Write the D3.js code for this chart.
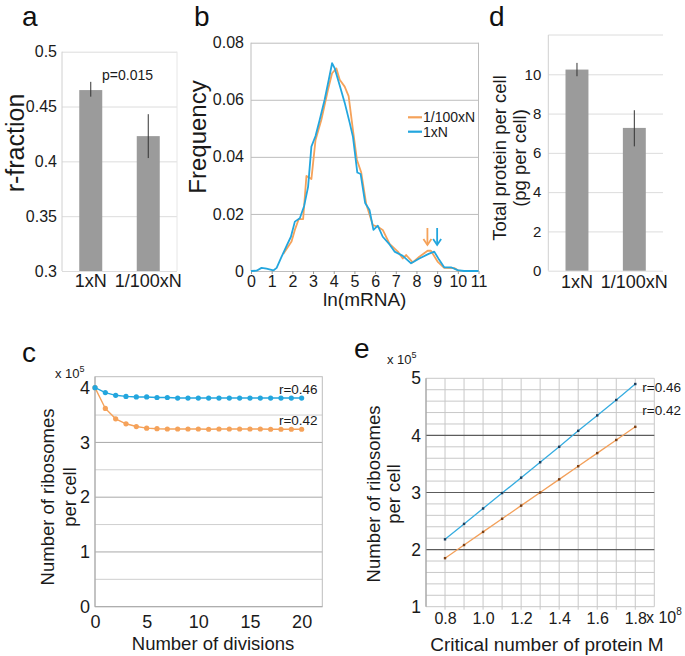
<!DOCTYPE html>
<html><head><meta charset="utf-8">
<script src="https://cdn.jsdelivr.net/npm/d3@7"></script>
<style>
body{margin:0;background:#fff;}
svg{display:block;font-family:"Liberation Sans",Arial,Helvetica,sans-serif;}
</style></head><body>
<svg id="fig" width="685" height="656"></svg>
<script>
// ---------------- data ----------------
const barCategories = ["1xN", "1/100xN"];
// panel a
const rFraction = [0.465, 0.423];
const rFractionLow = [0.459, 0.403];
const rFractionHigh = [0.4725, 0.443];
const rTicks = [0.3, 0.35, 0.4, 0.45, 0.5];
const pValueLabel = "p=0.015";
// panel b
const lnTicks = [0, 1, 2, 3, 4, 5, 6, 7, 8, 9, 10, 11];
const freqTicks = [0, 0.02, 0.04, 0.06, 0.08];
const freqBlue = [[0,0],[0.27,0.0001],[0.51,0.0011],[0.75,0.0008],[1.08,0.0002],[1.24,0.0011],[1.48,0.005],[1.72,0.0088],[1.93,0.012],[2.12,0.0173],[2.36,0.0185],[2.57,0.0228],[2.76,0.0295],[2.92,0.0436],[3.12,0.0473],[3.32,0.0529],[3.56,0.06],[3.76,0.067],[3.92,0.0728],[4.05,0.071],[4.29,0.065],[4.53,0.059],[4.77,0.052],[4.93,0.047],[5.14,0.0345],[5.3,0.034],[5.52,0.0238],[5.73,0.0214],[5.92,0.0144],[6.13,0.0159],[6.37,0.012],[6.7,0.0093],[6.94,0.0068],[7.34,0.0053],[7.74,0.0027],[8.14,0.0044],[8.59,0.006],[8.86,0.0068],[9.1,0.0039],[9.34,0.0013],[9.67,0.0013],[9.99,0.0003],[10.3,0],[11,0]];
const freqOrange = [[1.56,0.006],[1.96,0.0103],[2.12,0.0144],[2.31,0.0182],[2.52,0.0182],[2.68,0.0333],[2.92,0.0322],[3.12,0.0459],[3.4,0.0529],[3.72,0.0634],[3.92,0.0693],[4.13,0.071],[4.29,0.067],[4.53,0.0646],[4.72,0.0613],[4.93,0.0494],[5.12,0.039],[5.33,0.0345],[5.57,0.0235],[5.89,0.0161],[6.13,0.0155],[6.37,0.0144],[6.7,0.0095],[7.1,0.0068],[7.34,0.0044],[7.5,0.0056],[7.82,0.003],[8.14,0.005],[8.54,0.0071],[8.7,0.0071],[9.02,0.0033],[9.34,0.0011],[9.83,0.001],[10.07,0]];
const legendNames = ["1/100xN", "1xN"];
const peakArrows = [8.53, 9.0];
// panel c
const divisions = [0,1,2,3,4,5,6,7,8,9,10,11,12,13,14,15,16,17,18,19,20];
const riboDivR046 = [4.0,3.91,3.86,3.84,3.83,3.83,3.82,3.82,3.81,3.81,3.81,3.81,3.81,3.81,3.81,3.81,3.81,3.81,3.81,3.81,3.81];
const riboDivR042 = [4.0,3.62,3.43,3.34,3.29,3.26,3.25,3.245,3.245,3.245,3.245,3.24,3.245,3.245,3.245,3.245,3.245,3.24,3.24,3.24,3.24];
const divTicks = [0, 5, 10, 15, 20];
const riboTicksC = [0, 1, 2, 3, 4];
// panel d
const protein = [10.24, 7.27];
const proteinLow = [9.9, 6.33];
const proteinHigh = [10.58, 8.17];
const proteinTicks = [0, 2, 4, 6, 8, 10];
// panel e
const criticalM = [0.8,0.9,1.0,1.1,1.2,1.3,1.4,1.5,1.6,1.7,1.8];
const riboMR046 = [2.18,2.45,2.72,2.99,3.26,3.53,3.80,4.08,4.35,4.62,4.90];
const riboMR042 = [1.85,2.08,2.31,2.54,2.77,3.00,3.23,3.46,3.69,3.92,4.15];
const mTicks = [0.8, 1.0, 1.2, 1.4, 1.6, 1.8];
const riboTicksE = [1, 2, 3, 4, 5];
const seriesLabels = ["r=0.46", "r=0.42"];

// ---------------- drawing ----------------
const svg = d3.select("#fig");
const TXT = "#1a1a1a";
const BLUE = "#23a6de", ORANGE = "#f5a25a", BAR = "#9b9b9b";

function panelLabel(t, x, y) {
  svg.append("text").attr("x", x).attr("y", y).attr("font-size", 28).attr("fill", "#111").text(t);
}
function vTitle(lines, cx, cy, size, gap) {
  lines.forEach((s, i) => {
    const x = cx + (i - (lines.length - 1) / 2) * gap;
    svg.append("text").attr("transform", `translate(${x},${cy}) rotate(-90)`)
      .attr("text-anchor", "middle").attr("dominant-baseline", "central")
      .attr("font-size", size).attr("fill", TXT).text(s);
  });
}
function styleAxis(g, size, lineColor) {
  g.select(".domain").remove();
  g.selectAll(".tick line").attr("stroke", lineColor);
  g.selectAll(".tick text").attr("font-size", size).attr("fill", TXT).attr("font-family", null);
}
function hline(x1, x2, y, c, w) { svg.append("line").attr("x1", x1).attr("x2", x2).attr("y1", y).attr("y2", y).attr("stroke", c).attr("stroke-width", w || 1); }
function vline(x, y1, y2, c, w) { svg.append("line").attr("x1", x).attr("x2", x).attr("y1", y1).attr("y2", y2).attr("stroke", c).attr("stroke-width", w || 1); }

// ===== Panel a =====
{
  const L = 62, R = 177, T = 51.7, B = 271;
  const x = d3.scaleBand().domain(barCategories).range([L, R]).paddingInner(0.6).paddingOuter(0.3);
  const y = d3.scaleLinear().domain([0.3, 0.5]).range([B, T]);
  const ga = svg.append("g").attr("transform", `translate(${L},0)`)
    .call(d3.axisLeft(y).tickValues(rTicks).tickSize(-(R - L)).tickPadding(5).tickFormat(d => String(d)));
  styleAxis(ga, 16, "#dcdcdc");
  vline(L, T, B, "#d0d0d0");
  vline(R, T, B, "#e6e6e6");
  svg.append("g").selectAll("rect").data(rFraction).join("rect")
    .attr("x", (d, i) => x(barCategories[i])).attr("width", x.bandwidth())
    .attr("y", d => y(d)).attr("height", d => B - y(d)).attr("fill", BAR);
  svg.append("g").selectAll("line").data(rFraction).join("line")
    .attr("x1", (d, i) => x(barCategories[i]) + x.bandwidth() / 2).attr("x2", (d, i) => x(barCategories[i]) + x.bandwidth() / 2)
    .attr("y1", (d, i) => y(rFractionLow[i])).attr("y2", (d, i) => y(rFractionHigh[i]))
    .attr("stroke", "#333").attr("stroke-width", 1);
  const gx = svg.append("g").attr("transform", `translate(0,${B})`).call(d3.axisBottom(x).tickSize(0).tickPadding(3));
  styleAxis(gx, 18, "none");
  svg.append("text").attr("x", 102).attr("y", 80).attr("font-size", 14).attr("fill", TXT).text(pValueLabel);
  vTitle(["r-fraction"], 15, 143, 25, 0);
  panelLabel("a", 22, 26);
}

// ===== Panel b =====
{
  const L = 251, R = 478.5, T = 42.7, B = 271;
  const x = d3.scaleLinear().domain([0, 11]).range([L, R]);
  const y = d3.scaleLinear().domain([0, 0.08]).range([B, T]);
  const ga = svg.append("g").attr("transform", `translate(${L},0)`)
    .call(d3.axisLeft(y).tickValues(freqTicks).tickSize(-(R - L)).tickPadding(7).tickFormat(d => d === 0 ? "0" : d3.format(".2f")(d)));
  styleAxis(ga, 16, "#bdbdbd");
  vline(L, T, B, "#bdbdbd");
  vline(R, T, B, "#bdbdbd");
  const gx = svg.append("g").attr("transform", `translate(0,${B})`).call(d3.axisBottom(x).tickValues(lnTicks).tickSize(3).tickPadding(2));
  styleAxis(gx, 16, "#9a9a9a");
  const line = d3.line().x(d => x(d[0])).y(d => y(d[1]));
  svg.append("path").datum(freqOrange).attr("d", line).attr("fill", "none").attr("stroke", ORANGE).attr("stroke-width", 1.8).attr("stroke-linejoin", "round");
  svg.append("path").datum(freqBlue).attr("d", line).attr("fill", "none").attr("stroke", BLUE).attr("stroke-width", 1.8).attr("stroke-linejoin", "round");
  // legend
  [ORANGE, BLUE].forEach((c, i) => {
    const ly = 117.3 + i * 14.4;
    hline(408, 422, ly, c, 2.2);
    svg.append("text").attr("x", 423).attr("y", ly).attr("dominant-baseline", "central").attr("font-size", 14).attr("fill", TXT).text(legendNames[i]);
  });
  // arrows
  [ORANGE, BLUE].forEach((c, i) => {
    const ax = x(peakArrows[i]);
    const g = svg.append("g").attr("stroke", c).attr("stroke-width", 1.8).attr("fill", "none");
    g.append("line").attr("x1", ax).attr("x2", ax).attr("y1", 228).attr("y2", 245);
    g.append("path").attr("d", `M${ax - 4},${239} L${ax},${245} L${ax + 4},${239}`);
  });
  svg.append("text").attr("x", (L + R) / 2).attr("y", 306).attr("text-anchor", "middle").attr("font-size", 19).attr("fill", TXT).text("ln(mRNA)");
  vTitle(["Frequency"], 197, 137, 24, 0);
  panelLabel("b", 194, 26);
}

// ===== Panel d =====
{
  const L = 548.3, R = 663, T = 35, B = 270.7;
  const x = d3.scaleBand().domain(barCategories).range([L, R]).paddingInner(0.6).paddingOuter(0.3);
  const y = d3.scaleLinear().domain([0, 12]).range([B, T]);
  const ga = svg.append("g").attr("transform", `translate(${L},0)`)
    .call(d3.axisLeft(y).tickValues(proteinTicks).tickSize(-(R - L)).tickPadding(7).tickFormat(d3.format("d")));
  styleAxis(ga, 15, "#dcdcdc");
  hline(L, R, T, "#dcdcdc");
  vline(L, T, B, "#d0d0d0");
  svg.append("g").selectAll("rect").data(protein).join("rect")
    .attr("x", (d, i) => x(barCategories[i])).attr("width", x.bandwidth())
    .attr("y", d => y(d)).attr("height", d => B - y(d)).attr("fill", BAR);
  svg.append("g").selectAll("line").data(protein).join("line")
    .attr("x1", (d, i) => x(barCategories[i]) + x.bandwidth() / 2).attr("x2", (d, i) => x(barCategories[i]) + x.bandwidth() / 2)
    .attr("y1", (d, i) => y(proteinLow[i])).attr("y2", (d, i) => y(proteinHigh[i]))
    .attr("stroke", "#333").attr("stroke-width", 1);
  const gx = svg.append("g").attr("transform", `translate(0,${B})`).call(d3.axisBottom(x).tickSize(0).tickPadding(5));
  styleAxis(gx, 18, "none");
  vTitle(["Total protein per cell", "(pg per cell)"], 509.5, 158, 18.5, 19.5);
  panelLabel("d", 489, 26);
}

// ===== Panel c =====
{
  const L = 95, R = 322.3, T = 376.7, B = 606.7;
  const x = d3.scaleLinear().domain([0, 22]).range([L, R]);
  const y = d3.scaleLinear().domain([0, 4.2]).range([B, T]);
  [0.5, 1.5, 2.5, 3.5].forEach(v => hline(L, R, y(v), "#cfcfcf"));
  [1, 2, 3].forEach(v => hline(L, R, y(v), "#a8a8a8"));
  svg.append("rect").attr("x", L).attr("y", T).attr("width", R - L).attr("height", B - T).attr("fill", "none").attr("stroke", "#bdbdbd");
  vline(L, T, B, "#a8a8a8");
  hline(L, R, B, "#a8a8a8");
  const ga = svg.append("g").attr("transform", `translate(${L},0)`).call(d3.axisLeft(y).tickValues(riboTicksC).tickSize(0).tickPadding(5).tickFormat(d3.format("d")));
  styleAxis(ga, 18, "none");
  const gx = svg.append("g").attr("transform", `translate(0,${B})`).call(d3.axisBottom(x).tickValues(divTicks).tickSize(0).tickPadding(8.5).tickFormat(d3.format("d")));
  styleAxis(gx, 18, "none");
  const series = [[riboDivR042, ORANGE], [riboDivR046, BLUE]];
  series.forEach(([vals, c]) => {
    const line = d3.line().x((d, i) => x(divisions[i])).y(d => y(d));
    svg.append("path").datum(vals).attr("d", line).attr("fill", "none").attr("stroke", c).attr("stroke-width", 1.4);
    svg.append("g").selectAll("circle").data(vals).join("circle")
      .attr("cx", (d, i) => x(divisions[i])).attr("cy", d => y(d)).attr("r", 2.6).attr("fill", c);
  });
  [riboDivR046, riboDivR042].forEach((vals, i) => {
    svg.append("text").attr("x", x(20) + 16).attr("y", y(vals[vals.length - 1]) - 4).attr("text-anchor", "end")
      .attr("font-size", 13.5).attr("fill", TXT).text(seriesLabels[i]);
  });
  const t = svg.append("text").attr("x", 55).attr("y", 378).attr("font-size", 13).attr("fill", TXT).text("x 10");
  t.append("tspan").attr("dy", -6).attr("font-size", 9).text("5");
  svg.append("text").attr("x", 213).attr("y", 650).attr("text-anchor", "middle").attr("font-size", 18.5).attr("fill", TXT).text("Number of divisions");
  vTitle(["Number of ribosomes", "per cell"], 58, 497, 18.5, 22);
  panelLabel("c", 22, 362);
}

// ===== Panel e =====
{
  const L = 426, R = 654.3, T = 378.3, B = 606.7;
  const x = d3.scaleLinear().domain([0.7, 1.9]).range([L, R]);
  const y = d3.scaleLinear().domain([1, 5]).range([B, T]);
  const vGrid = d3.range(7, 19.5, 1).map(v => v / 10);
  const hGrid = d3.range(5, 25.5, 1).map(v => v / 5);
  hGrid.forEach(v => { if (![2, 3, 4].includes(v)) hline(L, R, y(v), "#c8c8c8"); });
  vGrid.forEach(v => vline(x(v), T, B + (v > 0.75 && v < 1.85 ? 3 : 0), "#c8c8c8"));
  [2, 3, 4].forEach(v => hline(L, R, y(v), "#5c5c5c", 1.2));
  vline(L, T, B, "#9a9a9a");
  const ga = svg.append("g").attr("transform", `translate(${L},0)`).call(d3.axisLeft(y).tickValues(riboTicksE).tickSize(0).tickPadding(5).tickFormat(d3.format("d")));
  styleAxis(ga, 17.5, "none");
  const gx = svg.append("g").attr("transform", `translate(0,${B})`).call(d3.axisBottom(x).tickValues(mTicks).tickSize(0).tickPadding(5.5).tickFormat(d3.format(".1f")));
  styleAxis(gx, 16, "none");
  const series = [[riboMR042, "#f3a05a", "#7a3f14"], [riboMR046, "#35ace0", "#1c3c5a"]];
  series.forEach(([vals, c, mc]) => {
    const line = d3.line().x((d, i) => x(criticalM[i])).y(d => y(d));
    svg.append("path").datum(vals).attr("d", line).attr("fill", "none").attr("stroke", c).attr("stroke-width", 1.3);
    svg.append("g").selectAll("rect").data(vals).join("rect")
      .attr("x", (d, i) => x(criticalM[i]) - 1.2).attr("y", d => y(d) - 1.2).attr("width", 2.4).attr("height", 2.4).attr("fill", mc);
  });
  const lastI = criticalM.length - 1;
  svg.append("text").attr("x", x(criticalM[lastI]) + 7).attr("y", y(riboMR046[lastI]) + 7.5).attr("font-size", 13.5).attr("fill", TXT).text(seriesLabels[0]);
  svg.append("text").attr("x", x(criticalM[lastI]) + 7).attr("y", y(riboMR042[lastI]) - 11.5).attr("font-size", 13.5).attr("fill", TXT).text(seriesLabels[1]);
  const t = svg.append("text").attr("x", 387).attr("y", 364).attr("font-size", 13).attr("fill", TXT).text("x 10");
  t.append("tspan").attr("dy", -6).attr("font-size", 9).text("5");
  const t2 = svg.append("text").attr("x", 646).attr("y", 623).attr("font-size", 16).attr("fill", TXT).text("x 10");
  t2.append("tspan").attr("dy", -8).attr("font-size", 10).text("8");
  svg.append("text").attr("x", 547).attr("y", 651).attr("text-anchor", "middle").attr("font-size", 19).attr("fill", TXT).text("Critical number of protein M");
  vTitle(["Number of ribosomes", "per cell"], 383, 494, 18.5, 20);
  panelLabel("e", 354, 358);
}
</script>
</body></html>
